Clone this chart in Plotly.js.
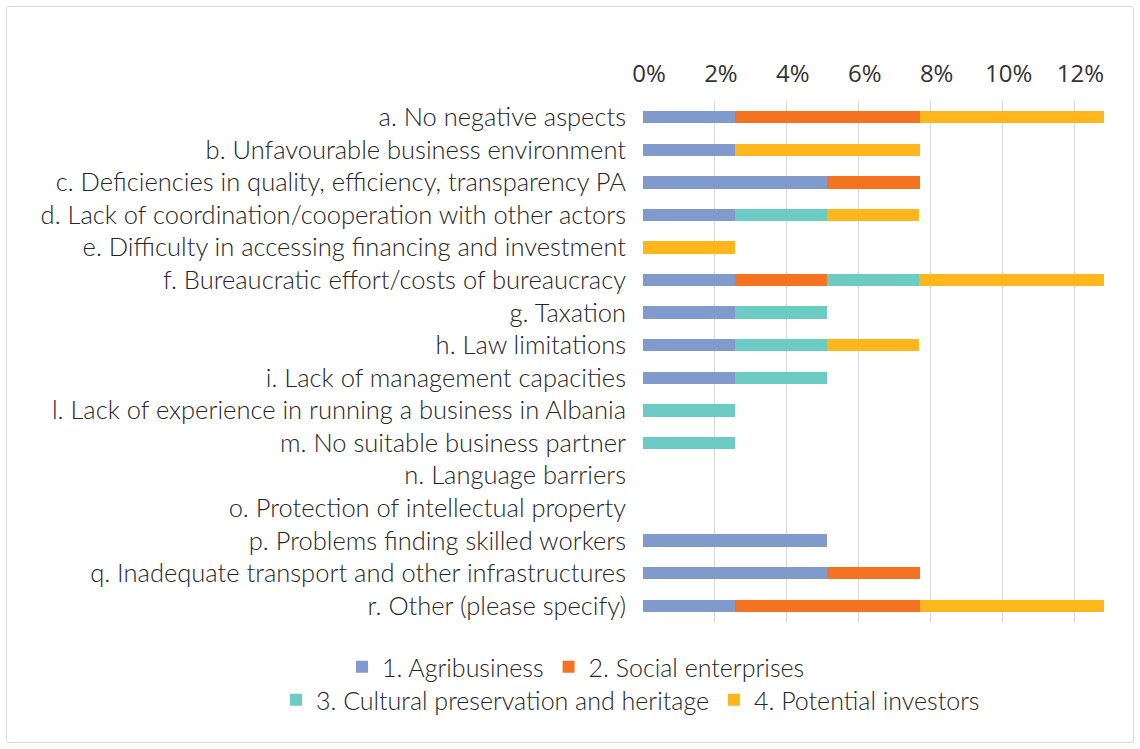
<!DOCTYPE html>
<html><head><meta charset="utf-8">
<script src="https://cdn.plot.ly/plotly-3.0.1.min.js"></script>
<style>
html,body{margin:0;padding:0;background:#fff;}
#wrap{position:relative;width:1140px;height:749px;}
#chart{width:1140px;height:749px;}
#frame{position:absolute;left:6px;top:6px;width:1126px;height:735px;border:1px solid #d9d9d9;border-radius:3px;pointer-events:none;}
</style></head>
<body>
<div id="wrap"><div id="chart"></div><div id="frame"></div></div>
<script>
const categories = [
  "a. No negative aspects",
  "b. Unfavourable business environment",
  "c. Deficiencies in quality, efficiency, transparency PA",
  "d. Lack of coordination/cooperation with other actors",
  "e. Difficulty in accessing financing and investment",
  "f. Bureaucratic effort/costs of bureaucracy",
  "g. Taxation",
  "h. Law limitations",
  "i. Lack of management capacities",
  "l. Lack of experience in running a business in Albania",
  "m. No suitable business partner",
  "n. Language barriers",
  "o. Protection of intellectual property",
  "p. Problems finding skilled workers",
  "q. Inadequate transport and other infrastructures",
  "r. Other (please specify)"
];
const seriesNames = ["1. Agribusiness","2. Social enterprises","3. Cultural preservation and heritage","4. Potential investors"];
const agribusiness = [0.0256,0.0256,0.0513,0.0256,0,0.0256,0.0256,0.0256,0.0256,0,0,0,0,0.0513,0.0513,0.0256];
const social       = [0.0513,0,0.0256,0,0,0.0256,0,0,0,0,0,0,0,0,0.0256,0.0513];
const cultural     = [0,0,0,0.0256,0,0.0256,0.0256,0.0256,0.0256,0.0256,0.0256,0,0,0,0,0];
const investors    = [0.0513,0.0513,0,0.0256,0.0256,0.0513,0,0.0256,0,0,0,0,0,0,0,0.0513];
const colors = ["#7f9acb","#f47321","#6ccbc3","#fdb71d"];
const tickVals = [0,0.02,0.04,0.06,0.08,0.10,0.12];
const tickText = ["0%","2%","4%","6%","8%","10%","12%"];

const series = [agribusiness, social, cultural, investors];
const legends = ["legend","legend","legend2","legend2"];
const traces = series.map((vals,i)=>({
  type:"bar", orientation:"h", name:seriesNames[i], x:vals, y:categories,
  marker:{color:colors[i], line:{width:0}}, legend:legends[i], hoverinfo:"x+name"
}));

const W=1140,H=749, L=643, R=36, T=101, B=127;
const pw=W-L-R, ph=H-T-B;
const legFont={family:"Lato, 'Open Sans', sans-serif", size:25, weight:300, color:"#262626"};
const layout = {
  width:W, height:H, barmode:"stack", bargap:0.62,
  margin:{l:L,r:R,t:T,b:B},
  paper_bgcolor:"#fff", plot_bgcolor:"#fff",
  font:{family:"Lato, 'Open Sans', sans-serif", size:20, color:"#262626"},
  xaxis:{side:"top", range:[0,0.1282], tickvals:tickVals, ticktext:tickText,
    showgrid:true, gridcolor:"#d9d9d9", gridwidth:1, zeroline:false, showline:false,
    ticks:"", ticklabelstandoff:13, ticklabelshift:6,
    tickfont:{family:"'Open Sans', sans-serif", size:24, color:"#333333"}, fixedrange:true},
  yaxis:{autorange:"reversed", categoryorder:"array", categoryarray:categories,
    showgrid:false, zeroline:false, showline:false, ticks:"", ticklabelstandoff:16,
    tickfont:{family:"Lato, sans-serif", size:25.5, weight:300, color:"#262626"}, fixedrange:true},
  showlegend:true,
  legend:{orientation:"h", x:(342-L)/pw, xanchor:"left", y:(H-B-667)/ph, yanchor:"middle",
    font:legFont, traceorder:"normal", itemwidth:30, bgcolor:"rgba(0,0,0,0)"},
  legend2:{orientation:"h", x:(276-L)/pw, xanchor:"left", y:(H-B-700)/ph, yanchor:"middle",
    font:legFont, traceorder:"normal", itemwidth:30, bgcolor:"rgba(0,0,0,0)"}
};
Plotly.newPlot("chart", traces, layout, {displayModeBar:false, staticPlot:true});
</script>
</body></html>
